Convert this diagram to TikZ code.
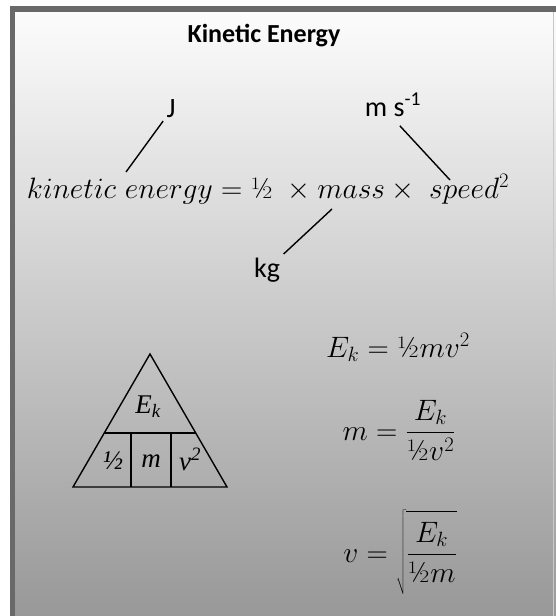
\RequirePackage{fix-cm}
\documentclass[tikz,border=0pt]{standalone}
\usepackage[no-math]{fontspec}
\newfontfamily\calibri{Carlito}
\newfontfamily\timesfont{Liberation Serif}
\usepackage{tikz}
\definecolor{framegrey}{RGB}{105,105,105}
\definecolor{topgrey}{RGB}{252,252,252}
\definecolor{midgrey}{RGB}{214,214,214}
\definecolor{basegrey}{RGB}{152,152,152}
\definecolor{edgegrey}{RGB}{200,200,200}
\tikzset{
  unitlabel/.style={font=\calibri\fontsize{28}{32}\selectfont, inner sep=2pt},
  pointer/.style={black, line width=1.4pt},
  trilabel/.style={font=\timesfont\itshape\fontsize{27}{30}\selectfont, inner sep=0pt},
  formula/.style={font=\fontsize{29.5}{34}\selectfont, inner sep=0pt}
}

\begin{document}
\begin{tikzpicture}[x=1pt, y=-1pt]
    \useasboundingbox (0,0) rectangle (556,616);
    % Frame and background
    \fill[framegrey] (10,6) rectangle (556,616);
    \shade[top color=topgrey, middle color=midgrey, bottom color=basegrey] (15,12) rectangle (556,616);
    \draw[edgegrey, line width=1pt] (553.5,12) -- (553.5,616);

    \node[anchor=base, font=\calibri\bfseries\fontsize{26}{30}\selectfont] (title) at (264,42) {Kinetic Energy};

    % Word equation with units
    \node[formula, anchor=base] (wordeq) at (268,198)
        {$kinetic\ energy = \mbox{\textonehalf}\;\times mass \times\; speed^2$};
    \node[unitlabel, anchor=base] (J) at (171,117) {J};
    \node[unitlabel, anchor=base] (ms) at (393,116) {m s\textsuperscript{-1}};
    \node[unitlabel, anchor=base] (kg) at (267,277) {kg};
    \coordinate (jend) at (126,172);
    \coordinate (msend) at (450,180);
    \coordinate (kgend) at (332,209);
    \draw[pointer, shorten <=2pt] (J.south west) -- (jend);
    \draw[pointer, shorten <=10pt] (ms.south) -- (msend);
    \draw[pointer, shorten <=2pt] (kg.north east) -- (kgend);

    % Formula triangle
    \draw[line width=1.4pt] (150,354) -- (227,487) -- (73,487) -- cycle;
    \draw[line width=1.4pt] (104.3,433) -- (195.7,433);
    \draw[line width=1.4pt] (131,433) -- (131,487);
    \draw[line width=1.4pt] (171,433) -- (171,487);
    \node[trilabel] (tek) at (148,407) {E\textsubscript{k}};
    \node[trilabel] (thalf) at (113,461) {\textonehalf};
    \node[trilabel] (tm) at (151,461) {m};
    \node[trilabel] (tv) at (190,459) {v\textsuperscript{2}};

    % Rearranged forms
    \node[formula, anchor=base] (eqke) at (398,357) {$E_k = \mbox{\textonehalf} m v^2$};
    \node[formula, anchor=base] (eqm) at (399,440) {$m = \displaystyle\frac{E_k}{\mbox{\textonehalf}v^2}$};
    \node[formula, anchor=base] (eqv) at (400,562)
        {$v = \sqrt{\rule[-31pt]{0pt}{80pt}\displaystyle\frac{E_k}{\mbox{\textonehalf}m}}$};
\end{tikzpicture}
\end{document}
